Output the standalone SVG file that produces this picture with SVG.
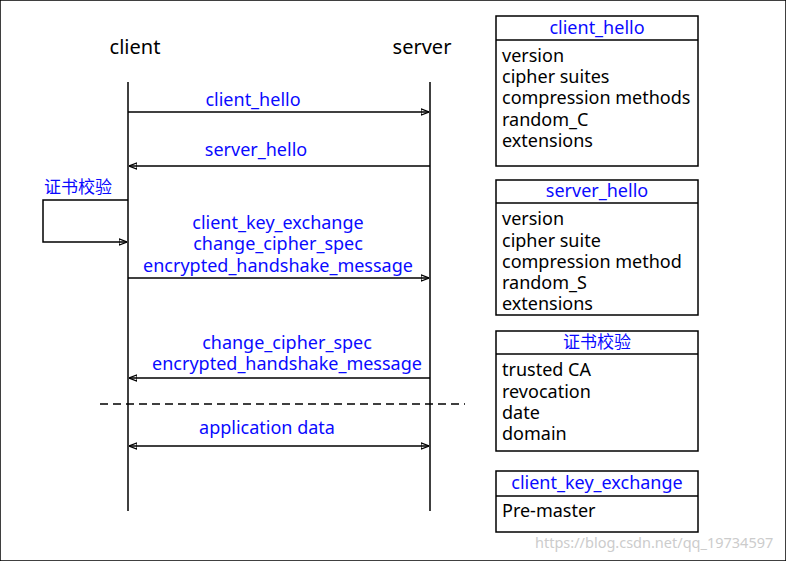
<svg xmlns="http://www.w3.org/2000/svg" width="786" height="561" viewBox="0 0 786 561">
<style>
text{font-family:"Noto Sans","Noto Sans CJK SC",sans-serif;font-size:18px;fill:#000}
.b{fill:#0a0aff}
.c{text-anchor:middle}
line,path,rect{stroke:#000;stroke-width:1.5;fill:none}
</style>
<defs>
<marker id="a" viewBox="0 0 10 10" refX="10" refY="5" markerWidth="8" markerHeight="8" orient="auto-start-reverse" markerUnits="userSpaceOnUse"><path d="M0,1 L10,5 L0,9 z" fill="#000" stroke="none"/></marker>
</defs>
<rect x="0" y="0" width="786" height="561" fill="#fff" stroke="none"/>
<g id="client"><text x="135" y="54" class="c" style="font-size:20px">client</text><line x1="128" y1="82" x2="128" y2="511"/></g>
<g id="server"><text x="422" y="54" class="c" style="font-size:20px">server</text><line x1="430" y1="82" x2="430" y2="511"/></g>
<g id="connectors">
<line x1="128" y1="112" x2="429" y2="112" marker-end="url(#a)"/>
<text x="253" y="106" class="b c">client_hello</text>
<line x1="430" y1="166" x2="129" y2="166" marker-end="url(#a)"/>
<text x="256" y="156" class="b c">server_hello</text>
<text x="44" y="193" class="b" style="font-size:17px">证书校验</text>
<path d="M128,200 H43 V242 H127" marker-end="url(#a)"/>
<text x="278" y="229" class="b c">client_key_exchange</text>
<text x="278" y="250" class="b c">change_cipher_spec</text>
<text x="278" y="272" class="b c">encrypted_handshake_message</text>
<line x1="128" y1="278" x2="429" y2="278" marker-end="url(#a)"/>
<text x="287" y="349" class="b c">change_cipher_spec</text>
<text x="287" y="370" class="b c">encrypted_handshake_message</text>
<line x1="430" y1="378" x2="129" y2="378" marker-end="url(#a)"/>
<line x1="100" y1="404" x2="465" y2="404" stroke-dasharray="8,5"/>
<text x="267" y="434" class="b c">application data</text>
<line x1="129" y1="446" x2="429" y2="446" marker-start="url(#a)" marker-end="url(#a)"/>
</g>
<g id="box1"><rect x="496" y="16" width="202" height="150"/><line x1="496" y1="40" x2="698" y2="40"/>
<text x="597" y="34" class="b c">client_hello</text>
<text x="502" y="62">version</text><text x="502" y="83">cipher suites</text><text x="502" y="104">compression methods</text><text x="502" y="126">random_C</text><text x="502" y="147">extensions</text></g>
<g id="box2"><rect x="496" y="180" width="202" height="135"/><line x1="496" y1="203" x2="698" y2="203"/>
<text x="597" y="197" class="b c">server_hello</text>
<text x="502" y="225">version</text><text x="502" y="247">cipher suite</text><text x="502" y="268">compression method</text><text x="502" y="289">random_S</text><text x="502" y="310">extensions</text></g>
<g id="box3"><rect x="496" y="331" width="202" height="120"/><line x1="496" y1="354" x2="698" y2="354"/>
<text x="597" y="348" class="b c" style="font-size:17px">证书校验</text>
<text x="502" y="376">trusted CA</text><text x="502" y="398">revocation</text><text x="502" y="419">date</text><text x="502" y="440">domain</text></g>
<g id="box4"><rect x="496" y="471" width="202" height="61"/><line x1="496" y1="496" x2="698" y2="496"/>
<text x="597" y="489" class="b c">client_key_exchange</text>
<text x="502" y="517">Pre-master</text></g>
<text x="535" y="548" style="font-size:14.5px;fill:#ccc">https://blog.csdn.net/qq_19734597</text>
</svg>
